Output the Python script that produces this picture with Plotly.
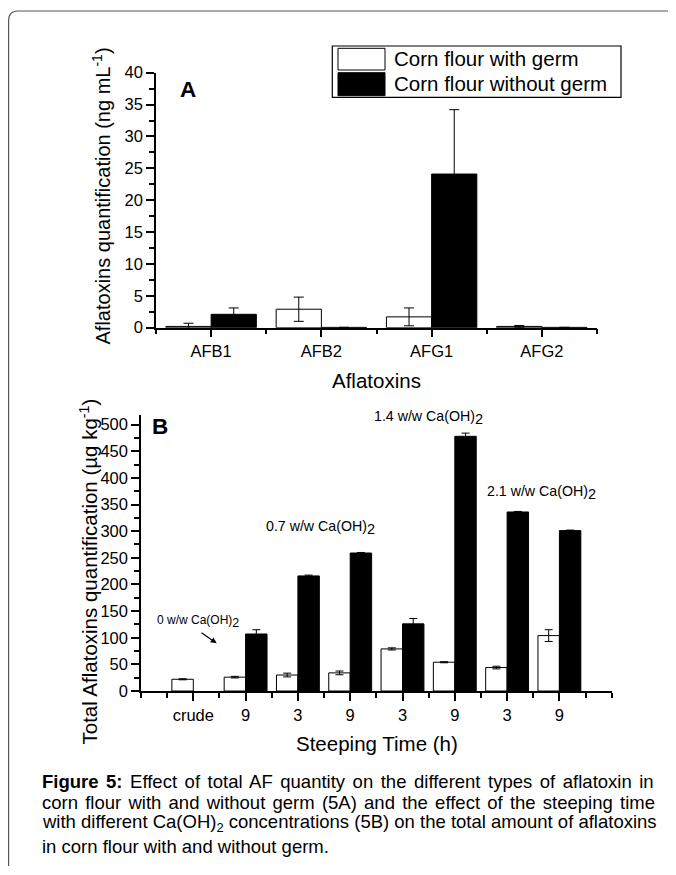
import plotly.graph_objects as go

# ---------------- data ----------------
toxins = ["AFB1", "AFB2", "AFG1", "AFG2"]
a_with_germ = [0.2, 2.9, 1.7, 0.2]
a_with_germ_err = [0.5, 1.9, 1.4, 0.15]
a_without_germ = [2.1, 0.05, 24.1, 0.05]
a_without_germ_err = [1.0, 0.0, 10.1, 0.0]

steep_labels = ["crude", "9", "3", "9", "3", "9", "3", "9"]
b_with_germ = [22, 26, 30, 34, 79, 54, 44, 104]
b_with_germ_err = [1, 1.5, 3.5, 3.5, 2, 1, 2.5, 11]
b_without_germ = [None, 107, 216, 259, 126, 478, 336, 301]
b_without_germ_err = [0, 8, 1.5, 1, 10, 6, 1, 1]

legend_names = ["Corn flour with germ", "Corn flour without germ"]

# ---------------- geometry helpers (window pixel -> paper) ----------------
# the page body has an 8px margin, so the figure starts at (8, 8)
OFF = 8
W, H = 676 - 2 * OFF, 875 - 2 * OFF
def px(x):
    return (x - OFF) / W
def py(y):
    return 1 - (y - OFF) / H

FONT = "Liberation Sans"

fig = go.Figure()

a_pos = list(range(len(toxins)))
b_pos = list(range(1, len(steep_labels) + 1))

fig.add_trace(go.Bar(x=a_pos, y=a_with_germ, name=legend_names[0],
                     marker=dict(color="white", line=dict(color="black", width=1)),
                     error_y=dict(type="data", array=a_with_germ_err, color="black", thickness=1, width=5),
                     xaxis="x", yaxis="y", showlegend=False))
fig.add_trace(go.Bar(x=a_pos, y=a_without_germ, name=legend_names[1],
                     marker=dict(color="black", line=dict(color="black", width=1)),
                     error_y=dict(type="data", array=a_without_germ_err, color="black", thickness=1, width=5),
                     xaxis="x", yaxis="y", showlegend=False))
fig.add_trace(go.Bar(x=b_pos, y=b_with_germ, name=legend_names[0],
                     marker=dict(color="white", line=dict(color="black", width=1)),
                     error_y=dict(type="data", array=b_with_germ_err, color="black", thickness=1, width=4),
                     xaxis="x2", yaxis="y2", showlegend=False))
fig.add_trace(go.Bar(x=b_pos, y=b_without_germ, name=legend_names[1],
                     marker=dict(color="black", line=dict(color="black", width=1)),
                     error_y=dict(type="data", array=b_without_germ_err, color="black", thickness=1, width=4),
                     xaxis="x2", yaxis="y2", showlegend=False))

axis_common = dict(showline=True, linecolor="black", linewidth=1.5, showgrid=False, zeroline=False,
                   ticks="outside", tickcolor="black", tickwidth=1.5,
                   tickfont=dict(family=FONT, size=16.5, color="black"), automargin=False)

fig.update_layout(
    width=W, height=H,
    margin=dict(l=0, r=0, t=0, b=0),
    paper_bgcolor="white", plot_bgcolor="white",
    font=dict(family=FONT, color="black"),
    barmode="group", bargap=0.18, bargroupgap=0,
    xaxis=dict(axis_common, domain=[px(156), px(597)], range=[-0.5, 3.5],
               tickmode="array", tickvals=a_pos, ticktext=toxins, ticklen=8,
               minor=dict(tickvals=[-0.5, 0.5, 1.5, 2.5, 3.5], ticks="outside", ticklen=5,
                          tickcolor="black", tickwidth=1.5),
               anchor="y"),
    yaxis=dict(axis_common, domain=[py(327.7), py(72.7)], range=[0, 40],
               tickmode="linear", tick0=0, dtick=5, ticklen=8,
               minor=dict(dtick=2.5, tick0=0, ticks="outside", ticklen=5, tickcolor="black", tickwidth=1.5),
               anchor="x"),
    xaxis2=dict(axis_common, domain=[px(141), px(611.7)], range=[0, 9],
                tickmode="array", tickvals=b_pos, ticktext=steep_labels, ticklen=8,
                minor=dict(tickvals=[i * 0.5 for i in range(19)], ticks="outside", ticklen=5,
                           tickcolor="black", tickwidth=1.5),
                anchor="y2"),
    yaxis2=dict(axis_common, domain=[py(691), py(415)], range=[0, 518],
                tickmode="linear", tick0=0, dtick=50, ticklen=8,
                minor=dict(dtick=25, tick0=0, ticks="outside", ticklen=5, tickcolor="black", tickwidth=1.5),
                anchor="x2"),
)

ann = []
def text(x, y, s, size, xanchor="left", yanchor="middle", angle=0, bold=False, family=FONT, pad=1):
    ann.append(dict(x=px(x), y=py(y), xref="paper", yref="paper", text=(f"<b>{s}</b>" if bold else s),
                    showarrow=False, xanchor=xanchor, yanchor=yanchor, textangle=angle, borderpad=pad,
                    font=dict(family=family, size=size, color="black")))

# axis titles
text(376.5, 380, "Aflatoxins", 20.5, xanchor="center")
text(376.5, 743, "Steeping Time (h)", 20.5, xanchor="center")
text(101, 196.5, "Aflatoxins quantification (ng mL<sup>-1</sup>)", 20, xanchor="center", angle=-90)
text(88, 571.5, "Total Aflatoxins quantification (µg kg<sup>-1</sup>)", 20.5, xanchor="center", angle=-90)

# panel letters
text(188, 90, "A", 22.5, xanchor="center", bold=True)
text(160, 426, "B", 22.5, xanchor="center", bold=True)

# legend text
text(391.7, 59, legend_names[0], 20.5)
text(391.7, 84, legend_names[1], 20.5)

# Ca(OH)2 annotations
sub2 = "<sub><span style='font-size:14.5px'>2</span></sub>"
text(155, 621, "0 w/w Ca(OH)<sub><span style='font-size:12.5px'>2</span></sub>", 12)
text(264, 527, "0.7 w/w Ca(OH)" + sub2, 14.2)
text(372.3, 417, "1.4 w/w Ca(OH)" + sub2, 14.2)
text(485, 492, "2.1 w/w Ca(OH)" + sub2, 14.2)

# arrow
ann.append(dict(x=px(216.7), y=py(643.3), xref="paper", yref="paper", ax=-16.7, ay=-11.6,
                showarrow=True, arrowhead=2, arrowsize=1, arrowwidth=1.2, arrowcolor="black", text=""))

# ---------------- caption (justified with word-spacing) ----------------
REG = {' ': 278, '(': 333, ')': 333, '.': 278, ':': 278, ',': 278, '-': 333,
       'A': 667, 'B': 667, 'C': 722, 'E': 667, 'F': 611, 'H': 722, 'O': 778,
       'a': 556, 'b': 556, 'c': 500, 'd': 556, 'e': 556, 'f': 278, 'g': 556, 'h': 556,
       'i': 222, 'k': 500, 'l': 222, 'm': 833, 'n': 556, 'o': 556, 'p': 556, 'q': 556,
       'r': 333, 's': 500, 't': 278, 'u': 556, 'v': 500, 'w': 722, 'x': 500, 'y': 500}
BOLD = {'F': 611, 'i': 278, 'g': 611, 'u': 611, 'r': 389, 'e': 556, ' ': 278, ':': 333}
for d in "0123456789":
    REG[d] = 556
    BOLD[d] = 556

def seg_width(s, table, size):
    return sum(table.get(ch, 556) for ch in s) / 1000 * size

CAP_SIZE = 18.5
CAP_LEFT, CAP_RIGHT = 40.7, 654
cap_y = [781, 802.3, 823.2, 846]
cap_lines = [
    [("Figure 5:", "b"), (" Effect of total AF quantity on the different types of aflatoxin in", "r")],
    [("corn flour with and without germ (5A) and the effect of the steeping time", "r")],
    [("with different Ca(OH)", "r"), ("2", "sub"), (" concentrations (5B) on the total amount of aflatoxins", "r")],
    [("in corn flour with and without germ.", "r")],
]
for i, segs in enumerate(cap_lines):
    width = 0
    spaces = 0
    html = ""
    for s, kind in segs:
        if kind == "b":
            width += seg_width(s, BOLD, CAP_SIZE)
            html += f"<b>{s}</b>"
        elif kind == "sub":
            width += seg_width(s, REG, CAP_SIZE * 0.7)
            html += f"<sub>{s}</sub>"
        else:
            width += seg_width(s, REG, CAP_SIZE)
            html += s
        spaces += s.count(" ")
    justify = i < len(cap_lines) - 1
    ws = (CAP_RIGHT - CAP_LEFT - width) / spaces if justify and spaces else 0
    if ws > 0:
        html = f"<span style='word-spacing:{ws:.2f}px'>{html}</span>"
    text(CAP_LEFT, cap_y[i], html, CAP_SIZE, pad=0)

fig.update_layout(annotations=ann)

shapes = []
# legend box
shapes.append(dict(type="rect", xref="paper", yref="paper", x0=px(332.3), x1=px(621), y0=py(97.3), y1=py(46),
                   line=dict(color="black", width=1.2), fillcolor="white", layer="below"))
shapes.append(dict(type="rect", xref="paper", yref="paper", x0=px(338), x1=px(385), y0=py(70), y1=py(48.3),
                   line=dict(color="black", width=1), fillcolor="white"))
shapes.append(dict(type="rect", xref="paper", yref="paper", x0=px(338), x1=px(385), y0=py(95.7), y1=py(72.7),
                   line=dict(color="black", width=1), fillcolor="black"))
# outer frame (rounded top-left corner)
r = 10
path = (f"M {px(676)},{py(11)} L {px(8 + r)},{py(11)} "
        f"Q {px(8.6)},{py(11)} {px(8.6)},{py(11 + r)} L {px(8.6)},{py(866)}")
shapes.append(dict(type="path", xref="paper", yref="paper", path=path,
                   line=dict(color="#555555", width=1.2)))
fig.update_layout(shapes=shapes)

fig.write_html("out.html")
